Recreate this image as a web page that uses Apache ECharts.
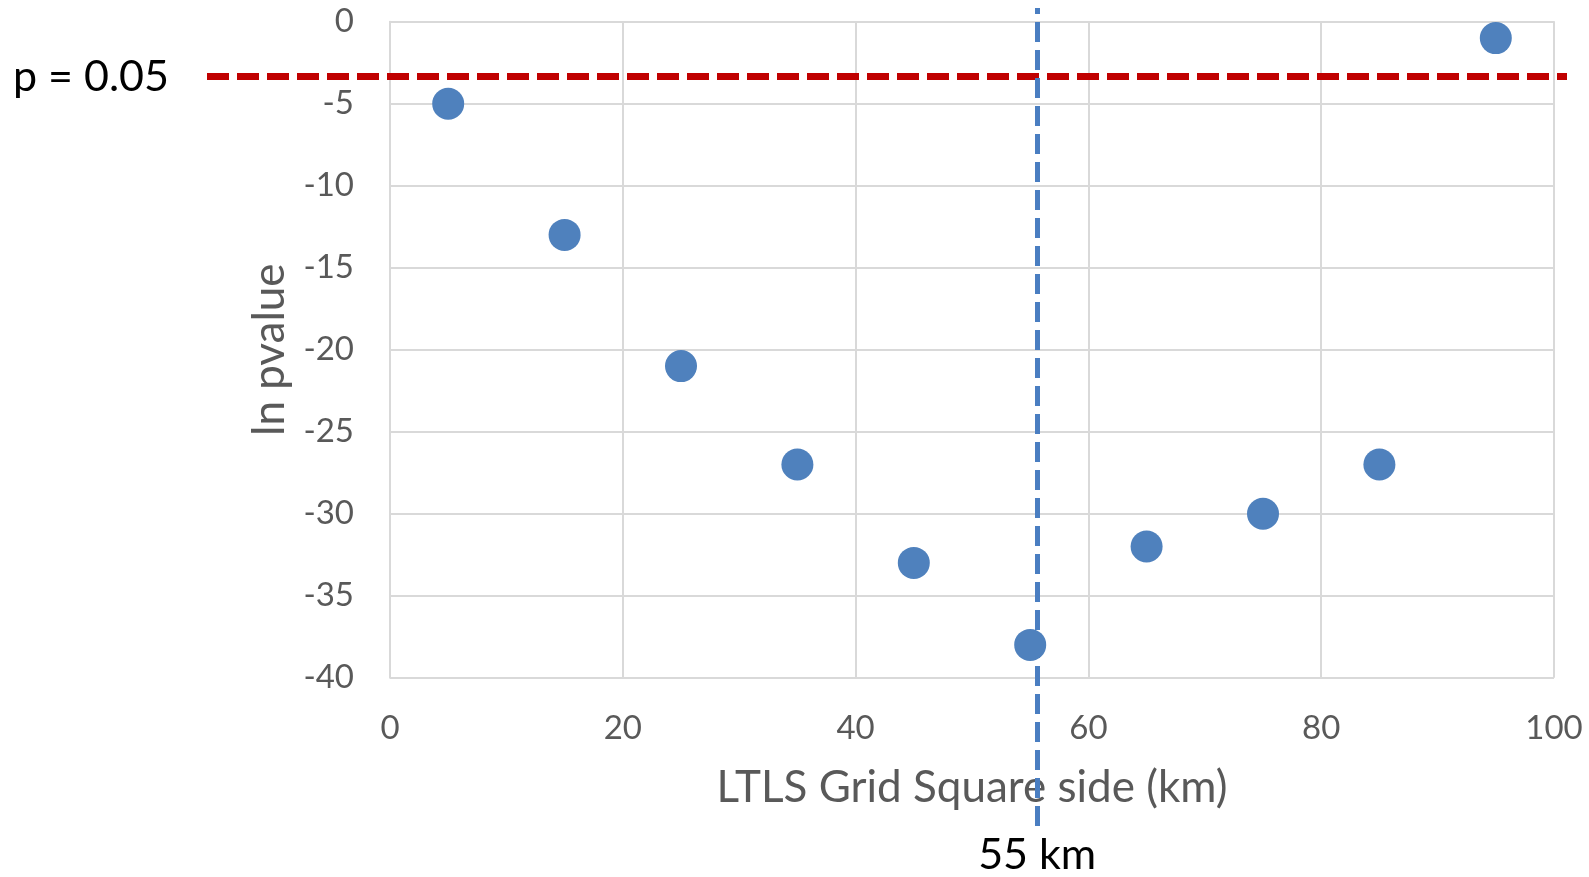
<!DOCTYPE html>
<html><head><meta charset="utf-8">
<script src="https://cdn.jsdelivr.net/npm/echarts@6/dist/echarts.min.js"></script>
<style>html,body{margin:0;padding:0;background:#fff}#c{width:1589px;height:877px}</style>
</head><body><div id="c"></div>
<script>
const gridSide = [5, 15, 25, 35, 45, 55, 65, 75, 85, 95];
const lnPvalue = [-5, -13, -21, -27, -33, -38, -32, -30, -27, -1];
const pThreshold = -3.35;
const pLabel = 'p = 0.05';
const optimumSide = 55.6;
const optimumLabel = '55 km';
const xTitle = 'LTLS Grid Square side (km)';
const yTitle = 'ln pvalue';

const FONT = 'Lato';
const grey = '#595959';
const gridCol = '#d9d9d9';
const chart = echarts.init(document.getElementById('c'));
const hiddenX = (gi) => ({gridIndex: gi, type: 'value', min: 0, max: 100, show: false});
const hiddenY = (gi) => ({gridIndex: gi, type: 'value', min: -40, max: 0, show: false});
chart.setOption({
  animation: false,
  textStyle: {fontFamily: FONT},
  grid: [
    {left: 390, right: 35, top: 21.7, bottom: 199.3},
    {left: 207, right: 22, top: 21.7, bottom: 199.3},
    {left: 390, right: 35, top: 8, bottom: 51}
  ],
  xAxis: [
    {gridIndex: 0, type: 'value', min: 0, max: 100, interval: 20,
     name: xTitle, nameLocation: 'middle', nameGap: 88,
     nameTextStyle: {fontSize: 44, color: grey, fontFamily: FONT},
     axisLine: {show: true, lineStyle: {color: gridCol, width: 2}},
     axisTick: {show: false},
     axisLabel: {fontSize: 33, color: grey, margin: 34, fontFamily: FONT},
     splitLine: {show: true, lineStyle: {color: gridCol, width: 2}}},
    hiddenX(1), hiddenX(2)
  ],
  yAxis: [
    {gridIndex: 0, type: 'value', min: -40, max: 0, interval: 5,
     name: yTitle, nameLocation: 'middle', nameGap: 98, nameRotate: 90,
     nameTextStyle: {fontSize: 44, color: grey, fontFamily: FONT},
     axisLine: {show: true, lineStyle: {color: gridCol, width: 2}},
     axisTick: {show: false},
     axisLabel: {fontSize: 33, color: grey, margin: 36, fontFamily: FONT},
     splitLine: {show: true, lineStyle: {color: gridCol, width: 2}}},
    hiddenY(1), hiddenY(2)
  ],
  series: [
    {type: 'scatter', xAxisIndex: 0, yAxisIndex: 0, symbolSize: 32,
     itemStyle: {color: '#4F81BD', opacity: 1},
     data: gridSide.map((x, i) => [x, lnPvalue[i]]), z: 5},
    {type: 'line', xAxisIndex: 1, yAxisIndex: 1, data: [], z: 4,
     markLine: {silent: true, symbol: ['none', 'none'],
       lineStyle: {color: '#C00000', width: 7, type: [22, 8]},
       label: {show: true, position: 'start', distance: 38, formatter: pLabel,
               fontSize: 43, color: '#000', fontFamily: FONT},
       data: [{yAxis: pThreshold}]}},
    {type: 'line', xAxisIndex: 2, yAxisIndex: 2, data: [], z: 6,
     markLine: {silent: true, symbol: ['none', 'none'],
       lineStyle: {color: '#4A7EC1', width: 5, type: [20, 8]},
       label: {show: true, position: 'start', distance: 8, formatter: optimumLabel,
               fontSize: 43, color: '#000', fontFamily: FONT},
       data: [{xAxis: optimumSide}]}}
  ]
});
</script></body></html>
